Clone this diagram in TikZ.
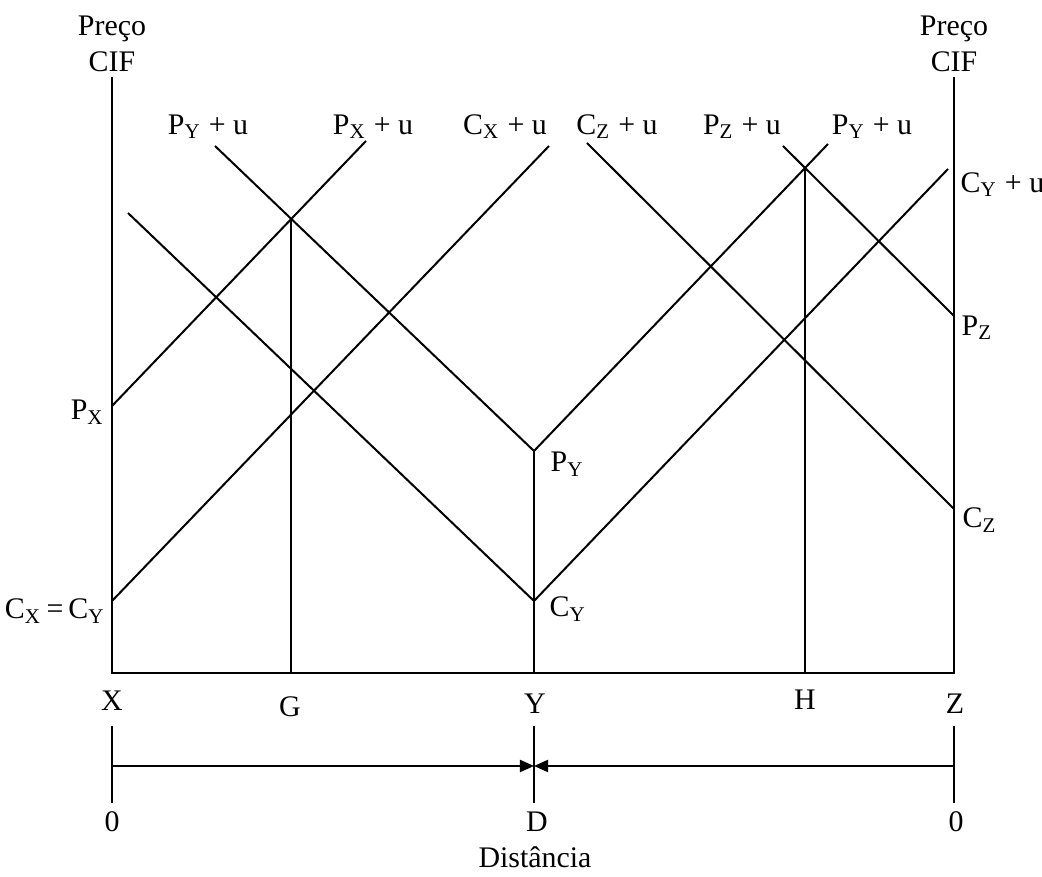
\documentclass[tikz,border=0pt]{standalone}
\usepackage{fontspec}
\setmainfont{Liberation Serif}
\usetikzlibrary{arrows.meta}

\begin{document}
\begin{tikzpicture}[x=0.01cm, y=-0.01cm, >={Triangle[length=0.14cm, width=0.12cm]},
    font=\fontsize{8.5}{10}\selectfont,
    axisline/.style={line width=0.77pt},
    priceline/.style={line width=0.57pt},
    tickline/.style={line width=0.4pt},
    lab/.style={inner sep=0pt}]
  \useasboundingbox (0,0) rectangle (1042,877);

  % axes and base line
  \coordinate (xtop) at (112,77);  \coordinate (xbot) at (112,673);
  \coordinate (ztop) at (954,77);  \coordinate (zbot) at (954,673);
  \draw[axisline] (xtop) -- (xbot) -- (zbot) -- (ztop);

  % price and cost points
  \coordinate (px)  at (112,406);  \coordinate (pxu) at (366,141);
  \coordinate (cx)  at (112,601);  \coordinate (cxu) at (549,146);
  \coordinate (cyl) at (128,213);  \coordinate (cy)  at (534,601);
  \coordinate (cyu) at (948,169);
  \coordinate (pyl) at (215,146);  \coordinate (py)  at (534,451);
  \coordinate (pyu) at (828,144);
  \coordinate (czu) at (587,143);  \coordinate (cz)  at (954,509);
  \coordinate (pzu) at (783,146);  \coordinate (pz)  at (954,316);
  \coordinate (ybot) at (534,673);

  \coordinate (g) at (intersection of px--pxu and pyl--py);
  \coordinate (h) at (intersection of py--pyu and pzu--pz);

  % delivered price lines
  \draw[priceline] (px) -- (pxu);
  \draw[priceline] (cx) -- (cxu);
  \draw[priceline] (cyl) -- (cy) -- (cyu);
  \draw[priceline] (pyl) -- (py) -- (pyu);
  \draw[priceline] (czu) -- (cz);
  \draw[priceline] (pzu) -- (pz);

  % market boundaries
  \draw[priceline] (g) -- (g |- xbot);
  \draw[priceline] (py) -- (ybot);
  \draw[priceline] (h) -- (h |- xbot);

  % axis titles
  \node[lab, anchor=base] (preco1) at (112,36) {Preço};
  \node[lab, anchor=base] (cif1)   at (112,72) {CIF};
  \node[lab, anchor=base] (preco2) at (954,36) {Preço};
  \node[lab, anchor=base] (cif2)   at (954,72) {CIF};

  % top labels
  \node[lab, anchor=base] (lpyu1) at (208,135) {P\textsubscript{Y} + u};
  \node[lab, anchor=base] (lpxu)  at (373,135) {P\textsubscript{X} + u};
  \node[lab, anchor=base] (lcxu)  at (505,135) {C\textsubscript{X} + u};
  \node[lab, anchor=base] (lczu)  at (617,135) {C\textsubscript{Z} + u};
  \node[lab, anchor=base] (lpzu)  at (742,135) {P\textsubscript{Z} + u};
  \node[lab, anchor=base] (lpyu2) at (872,135) {P\textsubscript{Y} + u};

  % side labels
  \node[lab, anchor=base west] (lcyu) at (960,193) {C\textsubscript{Y} + u};
  \node[lab, anchor=base west] (lpz)  at (961,336) {P\textsubscript{Z}};
  \node[lab, anchor=base west] (lcz)  at (962,528) {C\textsubscript{Z}};
  \node[lab, anchor=base east] (lpx)  at (105,420) {P\textsubscript{X}};
  \node[lab, anchor=base east] (lcx)  at (106,619) {C\textsubscript{X}\,=\,C\textsubscript{Y}};
  \node[lab, anchor=base west] (lpy)  at (550,472) {P\textsubscript{Y}};
  \node[lab, anchor=base west] (lcy)  at (549,617) {C\textsubscript{Y}};

  % places
  \node[lab, anchor=base] (lx) at (112,711) {X};
  \node[lab, anchor=base] (lg) at (290,717) {G};
  \node[lab, anchor=base] (ly) at (535,714) {Y};
  \node[lab, anchor=base] (lh) at (805,710) {H};
  \node[lab, anchor=base] (lz) at (955,714) {Z};

  % distance scale
  \coordinate (dx1) at (112,726);  \coordinate (dx2) at (112,803);
  \coordinate (dy1) at (534,726);  \coordinate (dy2) at (534,803);
  \coordinate (dz1) at (954,726);  \coordinate (dz2) at (954,803);
  \draw[tickline] (dx1) -- (dx2);
  \draw[tickline] (dy1) -- (dy2);
  \draw[tickline] (dz1) -- (dz2);
  \coordinate (ax) at (112,766);  \coordinate (ay) at (534,766);
  \coordinate (az) at (954,766);
  \draw[priceline, ->] (ax) -- (ay);
  \draw[priceline, ->] (az) -- (ay);

  \node[lab, anchor=base] (l0a) at (112,832) {0};
  \node[lab, anchor=base] (ld)  at (537,832) {D};
  \node[lab, anchor=base] (l0b) at (956,832) {0};
  \node[lab, anchor=base] (ldist) at (535,868) {Distância};
\end{tikzpicture}
\end{document}
